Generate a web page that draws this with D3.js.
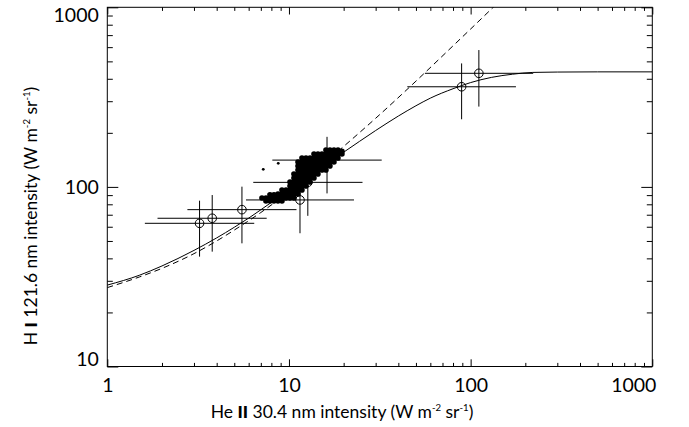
<!DOCTYPE html>
<html><head><meta charset="utf-8">
<script src="https://cdn.jsdelivr.net/npm/d3@7"></script>
<style>
body{margin:0;background:#fff}
text{font-family:Lato,"Noto Sans",sans-serif;fill:#000}
</style>
</head><body>
<svg id="chart" width="689" height="427"></svg>
<script>
// ---------------- data ----------------
const xMajorTicks = [1, 10, 100, 1000];
const xTickLabels = ["1", "10", "100", "1000"];
const yMajorTicks = [10, 100, 1000];
const yTickLabels = ["10", "100", "1000"];

// solid model curve
const solidX = [1, 1.5, 2, 3, 4, 5, 6, 8, 10, 15, 20, 30, 40, 50, 60, 80, 100, 130, 170, 220, 300, 500, 1000];
const solidY = [28.4, 32.2, 36.3, 44.3, 52, 59.6, 67, 82, 96, 128, 156, 206, 248, 283, 312, 352, 381, 407, 424, 434, 436, 437, 437];

// dashed line
const dashX = [1, 1.5, 2, 3, 4, 5, 7, 10, 15, 20, 30, 50, 80, 100, 140];
const dashY = [27.5, 31.5, 35.2, 42.5, 50, 57.5, 72, 94, 131, 168, 241, 388, 610, 757, 1051];

// observations with error bars
const obsX   = [3.22, 3.78, 5.51, 11.5, 16.2, 12.7, 89.2, 111];
const obsY   = [62.7, 66.9, 74.7, 84.6, 141, 106, 361, 429];
const obsXlo = [1.61, 1.89, 2.76, 5.80, 8.1, 6.36, 44.8, 56];
const obsXhi = [6.44, 7.54, 11.0, 22.8, 32.4, 25.4, 177.6, 221];
const obsYlo = [40.9, 43.6, 48.5, 55.2, 92, 69, 238, 280];
const obsYhi = [83.8, 90.1, 100.3, 114, 190, 143, 487, 578];

// dense scatter cluster
const clusterPoints = [
[7.10,86.7],
[7.47,86.7],[7.47,83.5],
[7.86,90.5],[7.86,86.7],[7.86,83.5],
[8.27,90.5],[8.27,86.7],[8.27,83.5],
[8.70,91.3],[8.70,86.7],[8.70,83.5],
[9.15,96.1],[9.15,91.3],[9.15,86.7],[9.15,83.5],
[9.63,96.1],[9.63,91.3],[9.63,86.7],
[10.13,106.5],[10.13,101.2],[10.13,96.1],[10.13,91.3],[10.13,86.7],
[10.65,118.0],[10.65,112.1],[10.65,106.5],[10.65,101.2],[10.65,96.1],[10.65,91.3],[10.65,86.7],
[11.21,137.6],[11.21,130.7],[11.21,124.2],[11.21,118.0],[11.21,112.1],[11.21,106.5],[11.21,101.2],[11.21,96.1],[11.21,91.3],
[11.79,144.8],[11.79,137.6],[11.79,130.7],[11.79,124.2],[11.79,118.0],[11.79,112.1],[11.79,106.5],[11.79,101.2],[11.79,96.1],
[12.41,144.8],[12.41,137.6],[12.41,130.7],[12.41,124.2],[12.41,118.0],[12.41,112.1],[12.41,106.5],[12.41,101.2],
[13.05,144.8],[13.05,137.6],[13.05,130.7],[13.05,124.2],[13.05,118.0],[13.05,112.1],[13.05,106.5],
[13.73,152.5],[13.73,144.8],[13.73,137.6],[13.73,130.7],[13.73,124.2],[13.73,118.0],[13.73,112.1],
[14.44,152.5],[14.44,144.8],[14.44,137.6],[14.44,130.7],[14.44,124.2],[14.44,118.0],
[15.19,152.5],[15.19,144.8],[15.19,137.6],[15.19,130.7],[15.19,124.2],
[15.98,160.5],[15.98,152.5],[15.98,144.8],[15.98,137.6],[15.98,130.7],[15.98,124.2],
[16.81,160.5],[16.81,152.5],[16.81,144.8],[16.81,137.6],[16.81,130.7],
[17.69,160.5],[17.69,152.5],[17.69,144.8],[17.69,137.6],
[18.61,160.5],[18.61,152.5],[18.61,144.8],
[19.57,158.0],[19.57,152.5]
];
const outlierPoints = [[7.22,125.3],[8.73,135.3]];

const xTitleParts = [{t:"He "},{t:"II",b:1},{t:" 30.4 nm intensity (W m"},{t:"-2",s:1},{t:" sr"},{t:"-1",s:1},{t:")"}];
const yTitleParts = [{t:"H "},{t:"I",b:1},{t:" 121.6 nm intensity (W m"},{t:"-2",s:1},{t:" sr"},{t:"-1",s:1},{t:")"}];

// ---------------- layout ----------------
const L = 107.3, R = 652.3, T = 7.3, B = 366.5;
const svg = d3.select("#chart");
const x = d3.scaleLog().domain([1, 1000]).range([L, R]);
const y = d3.scaleLog().domain([10, 1000]).range([B, T]);

function minorTicks(lo, hi) {
  const out = [];
  for (let d = lo; d < hi; d *= 10) for (let k = 2; k <= 9; k++) out.push(d * k);
  return out;
}
const xMinor = minorTicks(1, 1000);
const yMinor = minorTicks(10, 1000);

svg.append("clipPath").attr("id", "clip")
  .append("rect").attr("x", L).attr("y", T).attr("width", R - L).attr("height", B - T);

function styleAxis(g) {
  g.select(".domain").remove();
  g.selectAll(".tick line").attr("stroke", "#000").attr("stroke-width", 1);
}
const xLab = d => xTickLabels[xMajorTicks.indexOf(d)];
const yLab = d => yTickLabels[yMajorTicks.indexOf(d)];
const FONT = "Lato";

const xLabelShift = {1: 0, 10: 0, 100: 0, 1000: -19};
svg.append("g").attr("transform", `translate(0,${B})`)
  .call(d3.axisBottom(x).tickValues(xMajorTicks).tickSize(-7.2).tickPadding(12).tickFormat(xLab))
  .call(styleAxis)
  .call(g => g.selectAll("text").attr("font-size", 19.5).attr("font-family", FONT)
    .attr("transform", d => `translate(${xLabelShift[d]},0)`));
svg.append("g").attr("transform", `translate(0,${B})`)
  .call(d3.axisBottom(x).tickValues(xMinor).tickSize(-3.6).tickFormat(""))
  .call(styleAxis);
svg.append("g").attr("transform", `translate(0,${T})`)
  .call(d3.axisTop(x).tickValues(xMajorTicks).tickSize(-7.2).tickFormat(""))
  .call(styleAxis);
svg.append("g").attr("transform", `translate(0,${T})`)
  .call(d3.axisTop(x).tickValues(xMinor).tickSize(-3.6).tickFormat(""))
  .call(styleAxis);

const yLabelShift = {1000: 8, 100: 0.5, 10: -7};
svg.append("g").attr("transform", `translate(${L},0)`)
  .call(d3.axisLeft(y).tickValues(yMajorTicks).tickSize(-11).tickPadding(8.5).tickFormat(yLab))
  .call(styleAxis)
  .call(g => g.selectAll("text").attr("font-size", 19.5).attr("font-family", FONT)
    .attr("transform", d => `translate(0,${yLabelShift[d]})`));
svg.append("g").attr("transform", `translate(${L},0)`)
  .call(d3.axisLeft(y).tickValues(yMinor).tickSize(-5.5).tickFormat(""))
  .call(styleAxis);
svg.append("g").attr("transform", `translate(${R},0)`)
  .call(d3.axisRight(y).tickValues(yMajorTicks).tickSize(-11).tickFormat(""))
  .call(styleAxis);
svg.append("g").attr("transform", `translate(${R},0)`)
  .call(d3.axisRight(y).tickValues(yMinor).tickSize(-5.5).tickFormat(""))
  .call(styleAxis);

svg.append("rect").attr("x", L).attr("y", T).attr("width", R - L).attr("height", B - T)
  .attr("fill", "none").attr("stroke", "#000").attr("stroke-width", 1);

const plot = svg.append("g").attr("clip-path", "url(#clip)");

const line = d3.line().x(d => x(d[0])).y(d => y(d[1])).curve(d3.curveMonotoneX);
plot.append("path").datum(dashX.map((v, i) => [v, dashY[i]]))
  .attr("d", line).attr("fill", "none").attr("stroke", "#000").attr("stroke-width", 1)
  .attr("stroke-dasharray", "6,4");
plot.append("path").datum(solidX.map((v, i) => [v, solidY[i]]))
  .attr("d", line).attr("fill", "none").attr("stroke", "#000").attr("stroke-width", 1);

const obs = obsX.map((v, i) => ({x: v, y: obsY[i], xlo: obsXlo[i], xhi: obsXhi[i], ylo: obsYlo[i], yhi: obsYhi[i]}));
const eb = plot.append("g").attr("stroke", "#000").attr("stroke-width", 1).attr("fill", "none");
eb.selectAll("line.h").data(obs).join("line").attr("class", "h")
  .attr("x1", d => x(d.xlo)).attr("x2", d => x(d.xhi)).attr("y1", d => y(d.y)).attr("y2", d => y(d.y));
eb.selectAll("line.v").data(obs).join("line").attr("class", "v")
  .attr("x1", d => x(d.x)).attr("x2", d => x(d.x)).attr("y1", d => y(d.ylo)).attr("y2", d => y(d.yhi));
eb.selectAll("circle").data(obs).join("circle")
  .attr("cx", d => x(d.x)).attr("cy", d => y(d.y)).attr("r", 4.3);

plot.append("g").selectAll("circle").data(clusterPoints).join("circle")
  .attr("cx", d => x(d[0])).attr("cy", d => y(d[1])).attr("r", 2.8).attr("fill", "#000");
plot.append("g").selectAll("circle").data(outlierPoints).join("circle")
  .attr("cx", d => x(d[0])).attr("cy", d => y(d[1])).attr("r", 1.4).attr("fill", "#000");

function richText(sel, parts, size) {
  parts.forEach((p, i) => {
    const ts = sel.append("tspan").text(p.t);
    if (p.b) ts.attr("font-weight", "900");
    if (p.s) ts.attr("font-size", size * 0.55).attr("dy", -size * 0.4);
    else if (i > 0 && parts[i - 1].s) ts.attr("dy", size * 0.4);
  });
}
const xt = svg.append("text").attr("x", 342).attr("y", 418).attr("text-anchor", "middle").attr("font-size", 17.5);
richText(xt, xTitleParts, 17.5);
const yt = svg.append("text").attr("transform", "translate(37,216) rotate(-90)").attr("text-anchor", "middle").attr("font-size", 17.5);
richText(yt, yTitleParts, 17.5);
</script>
</body></html>
